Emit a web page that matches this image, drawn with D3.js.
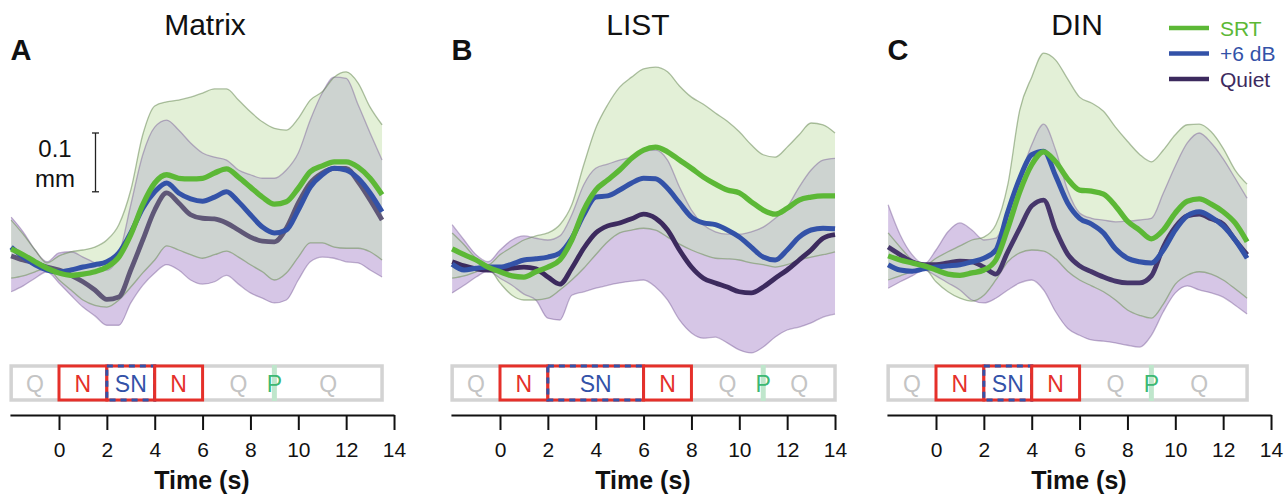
<!DOCTYPE html>
<html><head><meta charset="utf-8">
<script src="https://cdn.jsdelivr.net/npm/d3@7"></script>
<style>
body{margin:0;background:#fff}
svg{display:block}
text{font-family:"Liberation Sans",Arial,Helvetica,sans-serif}
</style>
</head><body>
<svg id="chart" width="1288" height="500"></svg>
<script>
// ---------------- DATA (displacement in µm, relative to baseline) ----------------
const timeA = [-2,-1.5,-1,-0.5,0,0.5,1,1.5,2,2.5,3,3.5,4,4.5,5,5.5,6,6.5,7,7.5,8,8.5,9,9.5,10,10.5,11,11.5,12,12.5,13,13.5];
const timeB = [-2,-1.5,-1,-0.5,0,0.5,1,1.5,2,2.5,3,3.5,4,4.5,5,5.5,6,6.5,7,7.5,8,8.5,9,9.5,10,10.5,11,11.5,12,12.5,13,13.5,14];
const timeC = [-2,-1.5,-1,-0.5,0,0.5,1,1.5,2,2.5,3,3.5,4,4.5,5,5.5,6,6.5,7,7.5,8,8.5,9,9.5,10,10.5,11,11.5,12,12.5,13];

// Panel A – Matrix
const srtA   = [36,26,14,3,-5,-9,-7,-3,5,22,60,111,148,162,156,155,156,165,172,158,141,124,112,116,139,167,177,184,184,175,156,128];
const plus6A = [39,22,9,0,-3,0,5,9,14,29,63,105,133,148,131,121,117,124,133,116,94,73,63,68,102,141,162,173,170,156,131,99];
const quietA = [24,17,12,5,0,-9,-20,-34,-50,-46,0,51,102,131,114,94,88,87,80,68,56,49,48,71,114,148,165,173,173,150,119,85];
const srtHiA = [85,61,34,12,24,31,34,39,51,77,136,230,279,286,289,294,301,308,308,289,269,252,241,238,258,289,303,328,337,318,277,247];
const srtLoA = [-14,-10,-3,3,-17,-34,-51,-60,-63,-51,-29,-5,17,41,34,26,20,26,32,22,9,-3,-17,-5,22,46,46,39,37,37,31,17];
const quietHiA = [90,65,34,14,29,31,22,12,0,26,111,196,243,255,238,216,199,192,187,170,162,156,156,170,199,255,301,328,326,281,233,187];
const quietLoA = [-37,-27,-14,-3,-22,-43,-63,-78,-94,-94,-56,-26,-5,9,0,-17,-24,-20,-9,-24,-39,-48,-56,-51,-17,14,22,20,14,12,0,-12];

// Panel B – LIST
const srtB   = [36,26,17,5,-3,-10,-12,-3,5,17,51,102,136,153,170,190,204,209,201,187,173,158,146,136,131,116,102,95,105,119,124,126,126];
const plus6B = [10,0,3,5,5,10,17,19,22,29,54,94,124,126,136,148,156,155,139,114,90,80,77,68,56,39,22,17,34,56,68,71,70];
const quietB = [14,7,2,0,0,3,5,2,-12,-24,3,37,63,75,80,87,95,88,68,34,5,-14,-22,-29,-37,-39,-29,-14,0,17,34,54,60];
const srtHiB = [63,43,20,9,26,39,51,58,63,77,111,179,241,281,311,328,342,345,337,313,294,282,267,253,235,213,196,192,209,230,250,247,233];
const srtLoB = [-14,-10,-3,3,-22,-43,-51,-51,-48,-34,-17,3,26,48,63,68,71,68,56,44,34,26,20,19,17,12,9,5,9,17,22,26,31];
const quietHiB = [77,51,26,14,34,51,58,54,51,58,94,145,173,180,187,192,202,204,187,141,102,77,65,61,61,65,73,88,107,141,170,187,190];
const quietLoB = [-39,-26,-12,-2,-14,-26,-41,-51,-82,-85,-43,-37,-31,-26,-22,-19,-17,-29,-51,-85,-107,-116,-114,-124,-136,-141,-131,-114,-102,-97,-90,-80,-75];

// Panel C – DIN
const srtC   = [24,17,12,7,0,-7,-9,-5,0,17,71,133,179,201,184,155,136,134,129,109,83,68,53,68,97,117,121,112,99,80,48];
const plus6C = [9,0,-2,2,5,7,9,14,20,34,99,156,196,202,160,114,88,78,63,36,20,14,12,34,68,92,99,90,75,51,20];
const quietC = [39,26,14,9,9,12,15,14,5,-7,31,71,109,119,68,27,7,-3,-12,-19,-22,-22,-10,39,73,92,95,87,78,51,26];
const srtHiC = [63,39,17,7,20,31,41,51,56,77,145,272,328,369,357,325,294,284,270,243,219,197,184,204,230,247,248,235,207,170,146];
const srtLoC = [-17,-10,-3,3,-20,-37,-48,-53,-43,-17,14,29,34,32,19,-2,-17,-27,-37,-51,-68,-77,-82,-58,-24,-9,-3,-7,-17,-32,-48];
const quietHiC = [111,60,26,10,34,65,80,68,51,54,99,156,213,248,204,136,97,88,85,82,83,85,88,131,177,216,233,216,189,156,122];
const quietLoC = [-31,-20,-10,0,-10,-22,-34,-51,-56,-48,-34,-22,-17,-34,-71,-99,-111,-119,-121,-124,-128,-131,-111,-71,-39,-27,-34,-39,-46,-60,-75];

// Trial timeline (seconds)
const stimA = [{label:"N",start:0,end:2},{label:"SN",start:2,end:4},{label:"N",start:4,end:6}];
const stimB = [{label:"N",start:0,end:2},{label:"SN",start:2,end:6},{label:"N",start:6,end:8}];
const stimC = [{label:"N",start:0,end:2},{label:"SN",start:2,end:4},{label:"N",start:4,end:6}];
const quietMarksA = [-1,7.5,11.25], quietMarksB = [-1,9.5,12.5], quietMarksC = [-1,7.5,11];
const promptA = 9, promptB = 11, promptC = 9;
const trialEndA = 13.5, trialEndB = 14, trialEndC = 13;

const titles = ["Matrix","LIST","DIN"];
const letters = ["A","B","C"];
const xTicks = [0,2,4,6,8,10,12,14];
const legendLabels = ["SRT","+6 dB","Quiet"];
const scaleBarUm = 100;   // 0.1 mm

// ---------------- STYLE ----------------
const C = {
  srt:"#5cb836", plus6:"#3352a8", quiet:"#3c2a5e",
  srtFill:"#e3f0d7", quietFill:"#d6c6e6", overlapFill:"#cdd3d0",
  srtEdge:"rgba(95,130,75,0.5)", quietEdge:"rgba(120,90,150,0.45)",
  red:"#e5302a", grey:"#d3d3d3", qText:"#c4c4c4", pText:"#3db873", pBar:"#bfe6cc"
};
const quietLineColor = ["#5f5777","#3c2a5e","#46366b"];

const panels = [
  {time:timeA, srt:srtA, p6:plus6A, q:quietA, sHi:srtHiA, sLo:srtLoA, qHi:quietHiA, qLo:quietLoA,
   stim:stimA, qm:quietMarksA, p:promptA, end:trialEndA, x0:59},
  {time:timeB, srt:srtB, p6:plus6B, q:quietB, sHi:srtHiB, sLo:srtLoB, qHi:quietHiB, qLo:quietLoB,
   stim:stimB, qm:quietMarksB, p:promptB, end:trialEndB, x0:500},
  {time:timeC, srt:srtC, p6:plus6C, q:quietC, sHi:srtHiC, sLo:srtLoC, qHi:quietHiC, qLo:quietLoC,
   stim:stimC, qm:quietMarksC, p:promptC, end:trialEndC, x0:936}
];

const svg = d3.select("#chart");
const pxPerSec = 23.93;
const y = d3.scaleLinear().domain([0,100]).range([270, 270-58.8]);
const axisY = 415, boxTop = 366, boxBot = 400;

panels.forEach((P, i) => {
  const x = d3.scaleLinear().domain([-2.05,14]).range([P.x0 - 2.05*pxPerSec, P.x0 + 14*pxPerSec]);
  const g = svg.append("g");
  const sData = P.time.map((t,k)=>({t, lo:P.sLo[k], hi:P.sHi[k]}));
  const qData = P.time.map((t,k)=>({t, lo:P.qLo[k], hi:P.qHi[k]}));
  const area = d3.area().x(d=>x(d.t)).y0(d=>y(d.lo)).y1(d=>y(d.hi)).curve(d3.curveMonotoneX);
  const edgeHi = d3.line().x(d=>x(d.t)).y(d=>y(d.hi)).curve(d3.curveMonotoneX);
  const edgeLo = d3.line().x(d=>x(d.t)).y(d=>y(d.lo)).curve(d3.curveMonotoneX);

  // bands
  g.append("path").attr("d", area(qData)).attr("fill", C.quietFill);
  g.append("path").attr("d", area(sData)).attr("fill", C.srtFill);
  const clipId = "clipQ"+i;
  svg.append("clipPath").attr("id", clipId).append("path").attr("d", area(qData));
  g.append("path").attr("d", area(sData)).attr("fill", C.overlapFill).attr("clip-path", `url(#${clipId})`);
  [[edgeHi,qData,C.quietEdge],[edgeLo,qData,C.quietEdge],[edgeHi,sData,C.srtEdge],[edgeLo,sData,C.srtEdge]]
    .forEach(([fn,d,c]) => g.append("path").attr("d", fn(d)).attr("fill","none").attr("stroke", c).attr("stroke-width",1.3));

  // mean lines
  const series = [[P.q, quietLineColor[i], 4.8],[P.p6, C.plus6, 5],[P.srt, C.srt, 5.3]];
  series.forEach(([vals, col, w]) => {
    const line = d3.line().x((d,k)=>x(P.time[k])).y(d=>y(d)).curve(d3.curveMonotoneX);
    g.append("path").attr("d", line(vals)).attr("fill","none").attr("stroke", col)
      .attr("stroke-width", w).attr("stroke-linejoin","round").attr("stroke-linecap","butt");
  });

  // titles
  const mid = (x(-2.05)+x(14))/2;
  const tcx = [205, 638, 1077][i];
  svg.append("text").attr("x", tcx).attr("y", 35).attr("text-anchor","middle")
    .attr("font-size", 30).attr("fill","#111").text(titles[i]);
  svg.append("text").attr("x", x(-2.05)+0.5).attr("y", 60).attr("font-size", 29)
    .attr("font-weight","bold").attr("fill","#111").text(letters[i]);

  // timeline
  const tl = svg.append("g");
  tl.append("rect").attr("x", x(-2)).attr("y", boxTop).attr("width", x(P.end)-x(-2)).attr("height", boxBot-boxTop)
    .attr("fill","none").attr("stroke", C.grey).attr("stroke-width", 3.5);
  tl.append("rect").attr("x", x(P.p)-2.5).attr("y", boxTop-1).attr("width",5).attr("height", boxBot-boxTop+2)
    .attr("fill", C.pBar);
  P.stim.forEach(s => {
    tl.append("rect").attr("x", x(s.start)).attr("y", boxTop).attr("width", x(s.end)-x(s.start))
      .attr("height", boxBot-boxTop).attr("fill","#fff").attr("stroke", C.red).attr("stroke-width", 3);
    if (s.label === "SN") {
      tl.append("rect").attr("x", x(s.start)).attr("y", boxTop).attr("width", x(s.end)-x(s.start))
        .attr("height", boxBot-boxTop).attr("fill","none").attr("stroke", C.plus6).attr("stroke-width", 3)
        .attr("stroke-dasharray","6,5");
    }
    tl.append("text").attr("x", x((s.start+s.end)/2)).attr("y", 391.5).attr("text-anchor","middle")
      .attr("font-size", 23).attr("fill", s.label==="SN" ? C.plus6 : C.red).text(s.label);
  });
  P.qm.forEach(t => tl.append("text").attr("x", x(t)).attr("y", 391.5).attr("text-anchor","middle")
      .attr("font-size", 23).attr("fill", C.qText).text("Q"));
  tl.append("text").attr("x", x(P.p)).attr("y", 391.5).attr("text-anchor","middle")
      .attr("font-size", 23).attr("fill", C.pText).text("P");

  // axis
  const ax = svg.append("g").attr("transform", `translate(0,${axisY})`)
    .call(d3.axisBottom(x).tickValues(xTicks).tickSize(15).tickSizeOuter(0).tickPadding(12));
  ax.select(".domain").attr("stroke","#111").attr("stroke-width",2);
  ax.selectAll(".tick line").attr("stroke","#111").attr("stroke-width",2);
  ax.selectAll(".tick text").attr("font-size",21).attr("fill","#111")
    .attr("font-family",'"Liberation Sans",Arial,sans-serif');
  svg.append("text").attr("x", mid).attr("y", 489).attr("text-anchor","middle")
    .attr("font-size", 25).attr("font-weight","bold").attr("fill","#111").text("Time (s)");
});

// scale bar (panel A)
const sb = svg.append("g");
const sb0 = 133;
sb.append("line").attr("x1",95.5).attr("x2",95.5).attr("y1",y(sb0)).attr("y2",y(sb0+scaleBarUm)).attr("stroke","#222").attr("stroke-width",1.3);
[sb0, sb0+scaleBarUm].forEach(v => sb.append("line").attr("x1",92).attr("x2",99).attr("y1",y(v)).attr("y2",y(v)).attr("stroke","#222").attr("stroke-width",1.3));
sb.append("text").attr("x",55).attr("y",157).attr("text-anchor","middle").attr("font-size",24).attr("fill","#111").text("0.1");
sb.append("text").attr("x",55).attr("y",187).attr("text-anchor","middle").attr("font-size",24).attr("fill","#111").text("mm");

// legend (panel C)
const legColors = [C.srt, C.plus6, C.quiet];
const lg = svg.append("g");
legendLabels.forEach((lab, k) => {
  const ly = 28 + k*25.5;
  lg.append("line").attr("x1",1169).attr("x2",1209).attr("y1",ly).attr("y2",ly).attr("stroke",legColors[k]).attr("stroke-width",4.5);
  lg.append("text").attr("x",1220).attr("y",ly+7.5).attr("font-size",21).attr("fill",legColors[k]).text(lab);
});
</script>
</body></html>
